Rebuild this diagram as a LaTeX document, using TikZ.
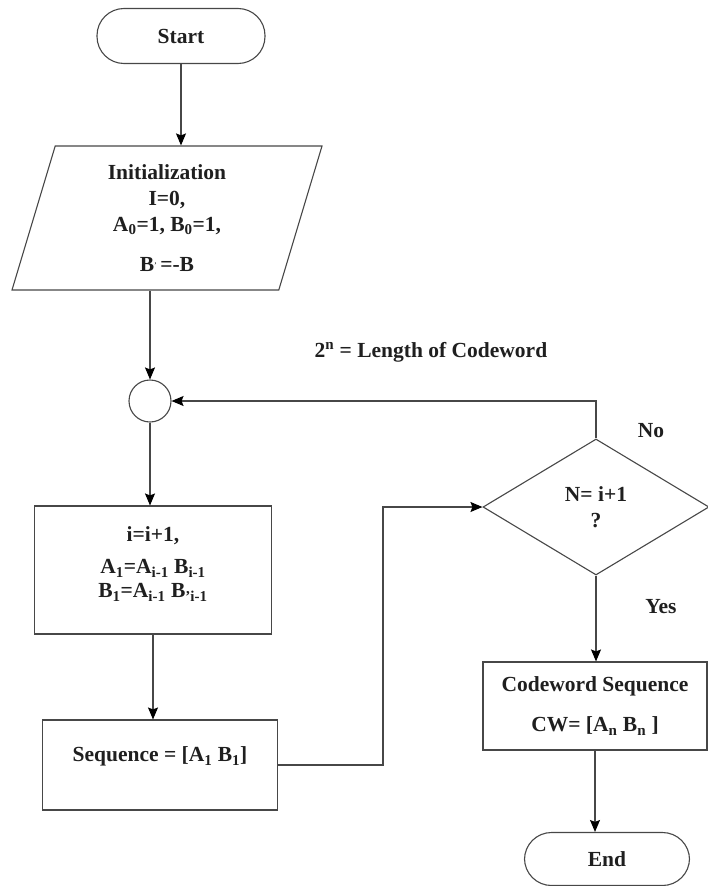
\documentclass[tikz,border=0pt]{standalone}
\usepackage{fontspec}
\setmainfont{Liberation Serif}
\usetikzlibrary{shapes.geometric,arrows.meta,positioning}

\tikzset{
  line/.style={draw=black!72, line width=1.1pt},
  arr/.style={line, -{Stealth[length=12pt,width=10pt,inset=2pt,color=black]}},
  term/.style={line, rectangle, rounded corners=27pt, minimum width=168pt, minimum height=55pt, inner sep=0pt},
  proc/.style={line, rectangle, inner sep=0pt},
  io/.style={line, trapezium, trapezium left angle=68, trapezium right angle=112, trapezium stretches body, inner sep=0pt},
  decide/.style={line, diamond, aspect=1.66, inner sep=0pt},
  txt/.style={font=\fontsize{21.5}{26}\selectfont\bfseries, text=black!88, align=center}
}

\begin{document}
\begin{tikzpicture}[x=1pt, y=-1pt, every node/.style={txt}]

	\useasboundingbox (0,0) rectangle (708,886);

	\node[term] (s) at (181, 36) {Start};

	\node[io, minimum width=310pt, minimum height=144pt] (init) at (167, 218) {Initialization\\I=0,\\A\textsubscript{0}=1, B\textsubscript{0}=1,\\[14pt]B\raisebox{0.35ex}{\scriptsize'}\,=-B};
	\draw[arr] (s) -- (s |- init.north);

	\node[line, circle, minimum size=42pt, inner sep=0pt] (j) at (150, 401) {};
	\draw[arr] (j |- init.south) -- (j);

	\node[txt] (len) at (431, 352) {2\textsuperscript{n} = Length of Codeword};

 	\node[proc, minimum width=237pt, minimum height=128pt] (upd) at (153, 570) {};
 	\node[anchor=north, font=\fontsize{21.5}{24}\selectfont\bfseries] (updt) at ([yshift=-18pt]upd.north) {i=i+1,\\[8pt]A\textsubscript{1}=A\textsubscript{i-1} B\textsubscript{i-1}\\B\textsubscript{1}=A\textsubscript{i-1} B\textsubscript{'i-1}};
 	\draw[arr] (j) -- (j |- upd.north);

 	\node[proc, minimum width=235pt, minimum height=90pt] (seq) at (160, 765) {};
 	\node[anchor=north] (seqt) at ([yshift=-24pt]seq.north) {Sequence = [A\textsubscript{1} B\textsubscript{1}]};
 	\draw[arr] (upd.south) -- (upd.south |- seq.north);

 	\node[decide, minimum width=226pt, minimum height=136pt] (dec) at (596, 507) {N= i+1\\?};
 	\coordinate (k) at (383, 0);
 	\draw[arr] (seq.east) -| (k |- dec.west) -- (dec.west);
 	\draw[arr] (dec.north) |- (j.east);
 	\node (no) at (651, 431) {No};

 	\node[proc, minimum width=224pt, minimum height=88pt] (cw) at (595, 706) {Codeword Sequence\\[14pt]CW= [A\textsubscript{n} B\textsubscript{n} ]};
 	\draw[arr] (dec.south) -- (dec.south |- cw.north);
 	\node (yes) at (661, 607) {Yes};

 	\node[term, minimum width=165pt, minimum height=53pt] (e) at (607, 859) {End};
 	\draw[arr] (cw.south) -- (cw.south |- e.north);

\end{tikzpicture}
\end{document}
